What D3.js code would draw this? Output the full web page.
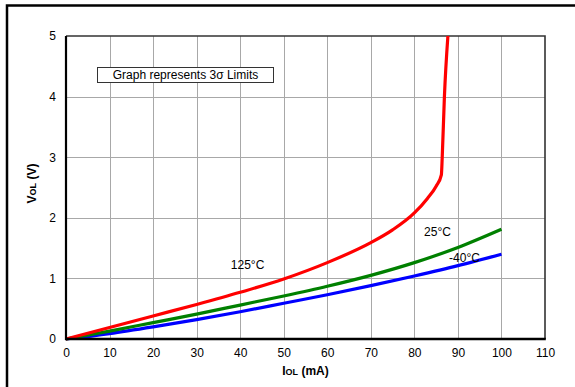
<!DOCTYPE html>
<html><head><meta charset="utf-8">
<script src="https://cdn.jsdelivr.net/npm/d3@7"></script>
<style>
html,body{margin:0;padding:0;background:#fff;}
svg{display:block;font-family:"Liberation Sans",Arial,sans-serif;}
</style></head>
<body>
<svg id="c" width="575" height="387"></svg>
<script>
const xTicks = [0,10,20,30,40,50,60,70,80,90,100,110];
const yTicks = [0,1,2,3,4,5];
const red125 = [[0,0],[10,0.19],[20,0.38],[30,0.57],[40,0.77],[50,0.99],[60,1.26],[70,1.59],[75,1.8],[80,2.08],[83,2.32],[85,2.52],[86.2,2.71],[86.4,3.0],[86.9,4.0],[87.7,5.0]];
const green25 = [[0,0],[10,0.13],[20,0.27],[30,0.41],[40,0.56],[50,0.71],[60,0.87],[70,1.05],[80,1.26],[90,1.51],[100,1.81]];
const blue40 = [[0,0],[10,0.09],[20,0.2],[30,0.32],[40,0.45],[50,0.59],[60,0.73],[70,0.88],[80,1.04],[90,1.21],[100,1.40]];
const labels = [["125°C",41.7,1.22],["25°C",85.3,1.77],["-40°C",91.5,1.34]];

const svg = d3.select("#c");
const L=66, R=545, T=36, B=339;
const x = d3.scaleLinear().domain([0,110]).range([L,R]);
const y = d3.scaleLinear().domain([0,5]).range([B,T]);

// outer frame
svg.append("rect").attr("x",7).attr("y",5.5).attr("width",620).attr("height",420)
  .attr("fill","none").attr("stroke","#000").attr("stroke-width",2.5);

// grid
const g = svg.append("g");
g.selectAll(".vg").data(xTicks.slice(1,-1)).join("line")
  .attr("x1",d=>Math.round(x(d))+0.5).attr("x2",d=>Math.round(x(d))+0.5)
  .attr("y1",T).attr("y2",B).attr("stroke","#a8a8a8").attr("stroke-width",1);
g.selectAll(".hg").data(yTicks.slice(1,-1)).join("line")
  .attr("y1",d=>Math.round(y(d))+0.5).attr("y2",d=>Math.round(y(d))+0.5)
  .attr("x1",L).attr("x2",R).attr("stroke","#a8a8a8").attr("stroke-width",1);

// top/right frame
svg.append("path").attr("d",`M${L},${T}H${R}V${B}`).attr("fill","none")
  .attr("stroke","#333").attr("stroke-width",1.6);

// curves
const line = d3.line().x(d=>x(d[0])).y(d=>y(d[1])).curve(d3.curveMonotoneX);
[[blue40,"#0000ff"],[green25,"#008000"],[red125,"#ff0000"]].forEach(([d,c])=>{
  svg.append("path").datum(d).attr("d",line).attr("fill","none")
    .attr("stroke",c).attr("stroke-width",3.2).attr("stroke-linejoin","round");
});

// axes
const xa = svg.append("g").attr("transform",`translate(0,${B})`)
  .call(d3.axisBottom(x).tickValues(xTicks).tickSize(0).tickPadding(9).tickFormat(d3.format("d")));
const ya = svg.append("g").attr("transform",`translate(${L},0)`)
  .call(d3.axisLeft(y).tickValues(yTicks).tickSize(0).tickPadding(10).tickFormat(d3.format("d")));
[xa,ya].forEach(a=>{a.select(".domain").remove();
  a.selectAll("text").attr("font-size",12).attr("fill","#000").attr("font-family","Liberation Sans, Arial, sans-serif");});

svg.append("line").attr("x1",L).attr("x2",L).attr("y1",T).attr("y2",B+1.2)
  .attr("stroke","#000").attr("stroke-width",2.2);
svg.append("line").attr("x1",L).attr("x2",R+0.8).attr("y1",B).attr("y2",B)
  .attr("stroke","#000").attr("stroke-width",2.4);

// axis titles
const xt = svg.append("text").attr("x",(L+R)/2).attr("y",375).attr("text-anchor","middle")
  .attr("font-size",12).attr("font-weight","bold");
xt.append("tspan").text("I");
xt.append("tspan").attr("font-size",9).text("OL");
xt.append("tspan").text(" (mA)");
const yt = svg.append("text").attr("transform",`translate(36,${(T+B)/2-4}) rotate(-90)`)
  .attr("text-anchor","middle").attr("font-size",12).attr("font-weight","bold");
yt.append("tspan").text("V");
yt.append("tspan").attr("font-size",9).text("OL");
yt.append("tspan").text(" (V)");

// note box
svg.append("rect").attr("x",97.5).attr("y",67.5).attr("width",176).attr("height",15)
  .attr("fill","#fff").attr("stroke","#333").attr("stroke-width",1);
svg.append("text").attr("x",185.5).attr("y",79).attr("text-anchor","middle")
  .attr("font-size",12).text("Graph represents 3σ Limits");

// curve labels
svg.selectAll(".lab").data(labels).join("text")
  .attr("x",d=>x(d[1])).attr("y",d=>y(d[2])+4).attr("text-anchor","middle")
  .attr("font-size",12).text(d=>d[0]);
</script>
</body></html>
